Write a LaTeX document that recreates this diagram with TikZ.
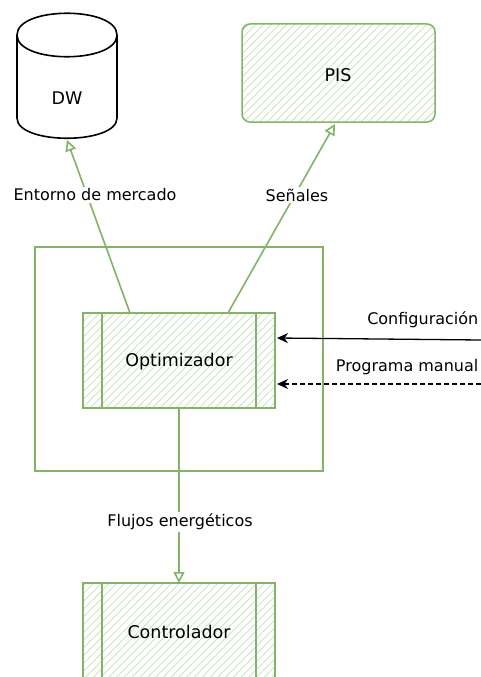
\documentclass[tikz,border=0pt]{standalone}
\usepackage{fontspec}
\setmainfont{DejaVu Sans}
\usetikzlibrary{arrows.meta,patterns.meta}
\definecolor{sgreen}{HTML}{82B366}
\definecolor{hatch}{HTML}{C4DFB9}
\tikzset{
  box/.style={draw=sgreen,line width=1.5pt,pattern={Lines[angle=45,distance=5.5pt,line width=0.7pt]},pattern color=hatch},
  frame/.style={draw=sgreen,line width=1.4pt},
  garrow/.style={draw=sgreen,line width=1.6pt,-{Triangle[open,length=11pt,width=11pt]}},
  barrow/.style={draw=black,line width=1.3pt,-{Stealth[length=11pt,width=10pt]}},
  lbl/.style={font=\fontsize{16}{18}\selectfont,fill=white,inner sep=1.5pt},
  btxt/.style={font=\fontsize{17.5}{20}\selectfont},
  cyl/.style={draw=black,line width=1.6pt}
}
\begin{document}
\begin{tikzpicture}[x=1pt,y=-1pt]
\useasboundingbox (0,0) rectangle (481,677);
\clip (0,0) rectangle (481,677);
\fill[white] (0,0) rectangle (481,677);
% DW cylinder
\draw[cyl,fill=white] (17,35) -- (17,118) .. controls (17,145) and (117,145) .. (117,118) -- (117,35);
\draw[cyl] (17,35) .. controls (17,6) and (117,6) .. (117,35);
\draw[cyl] (17,35) .. controls (17,64) and (117,64) .. (117,35);
\node[btxt] (dw) at (67,98) {DW};
\coordinate (dwb) at (67,140);
% PIS
\draw[box,rounded corners=8pt] (242,24) rectangle (435,122);
\node[btxt] (pis) at (338,75) {PIS};
\coordinate (pisb) at (335,124);
% outer frame
\draw[frame] (35,247) rectangle (323,471);
% Optimizador
\draw[box] (83,313) rectangle (275,408);
\draw[sgreen,line width=1.5pt] (102,313) -- (102,408) (256,313) -- (256,408);
\node[btxt] (opt) at (179,362) {Optimizador};
\coordinate (optdw) at (130,313);
\coordinate (optpis) at (228,313);
\coordinate (optb) at (179,408);
\coordinate (optr1) at (277,338);
\coordinate (optr2) at (277,384);
% Controlador
\draw[box] (83,583) rectangle (275,700);
\draw[sgreen,line width=1.5pt] (102,583) -- (102,700) (256,583) -- (256,700);
\node[btxt] (ctl) at (179,632) {Controlador};
\coordinate (ctlt) at (179,583);
% arrows
\draw[garrow] (optdw) -- (dwb);
\node[lbl] (l1) at (95,195) {Entorno de mercado};
\draw[garrow] (optpis) -- (pisb);
\node[lbl] (l2) at (297,195) {Señales};
\draw[garrow] (optb) -- (ctlt);
\node[lbl] (l3) at (180,522) {Flujos energéticos};
\coordinate (c1) at (481,340);
\coordinate (c2) at (481,384);
\draw[barrow] (c1) -- (optr1);
\draw[barrow,dashed,dash pattern=on 5pt off 3pt] (c2) -- (optr2);
\node[lbl,anchor=east] (l4) at (480,320) {Configuración};
\node[lbl,anchor=east] (l5) at (480,367) {Programa manual};
\end{tikzpicture}
\end{document}
